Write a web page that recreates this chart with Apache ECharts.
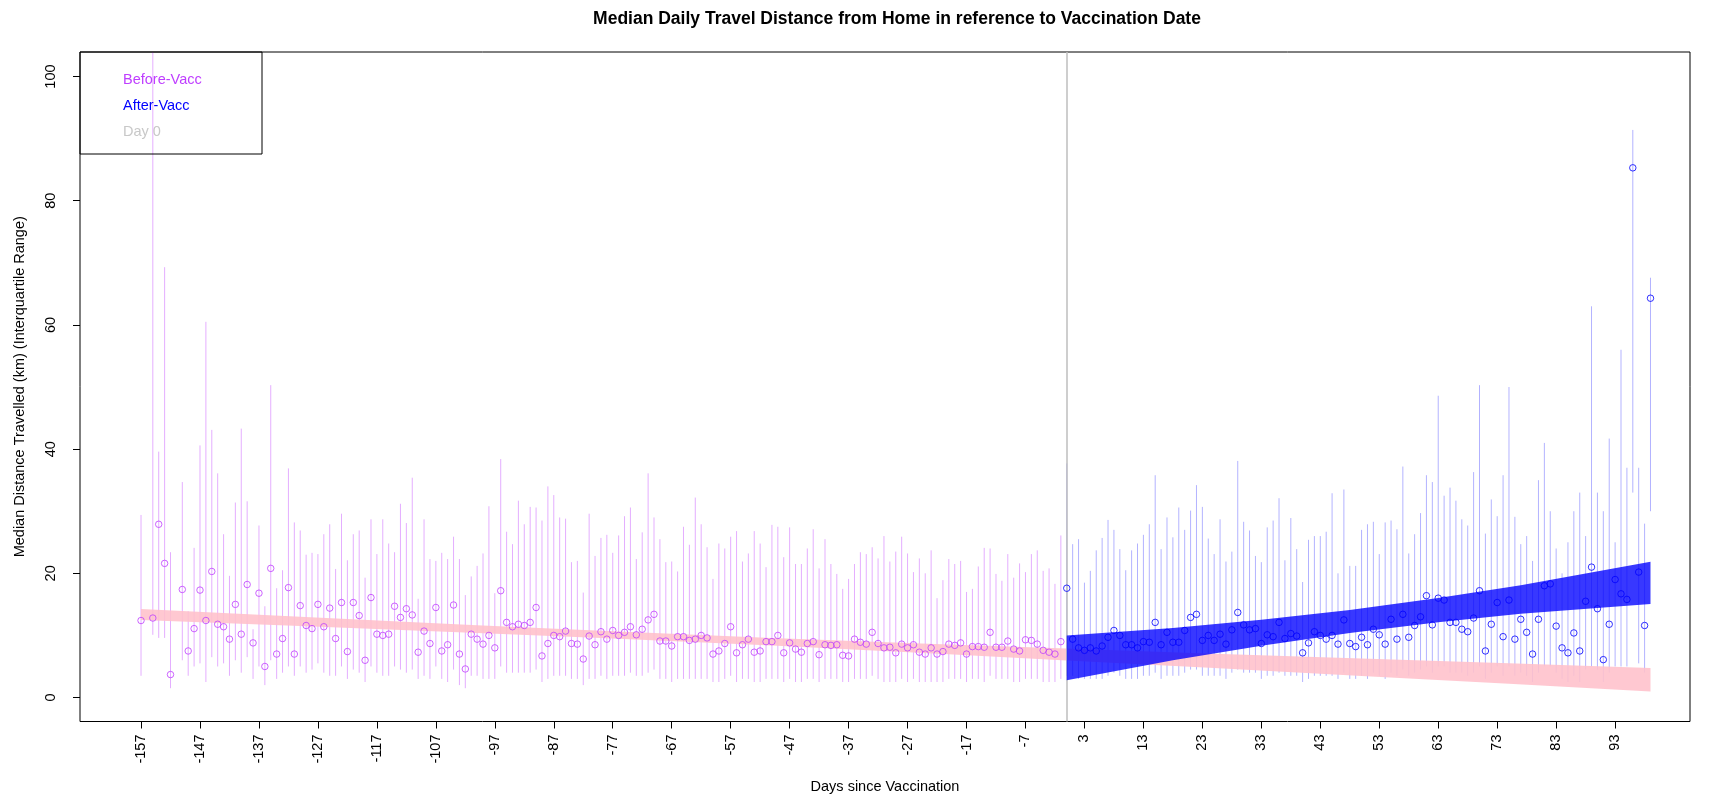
<!DOCTYPE html>
<html>
<head>
<meta charset="utf-8">
<script src="https://cdn.jsdelivr.net/npm/echarts@6/dist/echarts.min.js"></script>
<style>
html,body{margin:0;padding:0;background:#fff;}
#chart{width:1716px;height:801px;}
</style>
</head>
<body>
<div id="chart"></div>
<script>
// ---------------- DATA ----------------
const xTickLabels = [-157,-147,-137,-127,-117,-107,-97,-87,-77,-67,-57,-47,-37,-27,-17,-7,3,13,23,33,43,53,63,73,83,93];
const yTickLabels = [0,20,40,60,80,100];

const beforeDays = [-157,-155,-154,-153,-152,-150,-149,-148,-147,-146,-145,-144,-143,-142,-141,-140,-139,-138,-137,-136,-135,-134,-133,-132,-131,-130,-129,-128,-127,-126,-125,-124,-123,-122,-121,-120,-119,-118,-117,-116,-115,-114,-113,-112,-111,-110,-109,-108,-107,-106,-105,-104,-103,-102,-101,-100,-99,-98,-97,-96,-95,-94,-93,-92,-91,-90,-89,-88,-87,-86,-85,-84,-83,-82,-81,-80,-79,-78,-77,-76,-75,-74,-73,-72,-71,-70,-69,-68,-67,-66,-65,-64,-63,-62,-61,-60,-59,-58,-57,-56,-55,-54,-53,-52,-51,-50,-49,-48,-47,-46,-45,-44,-43,-42,-41,-40,-39,-38,-37,-36,-35,-34,-33,-32,-31,-30,-29,-28,-27,-26,-25,-24,-23,-22,-21,-20,-19,-18,-17,-16,-15,-14,-13,-12,-11,-10,-9,-8,-7,-6,-5,-4,-3,-2,-1];
const beforeMedian = [12.4,12.8,27.9,21.6,3.7,17.4,7.5,11.1,17.3,12.4,20.3,11.8,11.4,9.4,15.0,10.2,18.2,8.8,16.8,5.0,20.8,7.0,9.5,17.7,7.0,14.8,11.6,11.1,15.0,11.4,14.4,9.5,15.3,7.4,15.3,13.2,6.0,16.1,10.2,10.0,10.2,14.7,12.9,14.3,13.3,7.3,10.7,8.7,14.5,7.5,8.5,14.9,7.0,4.6,10.2,9.4,8.6,10.0,8.0,17.2,12.1,11.4,11.8,11.6,12.1,14.5,6.7,8.7,10.0,9.8,10.7,8.7,8.6,6.2,9.9,8.5,10.6,9.4,10.8,10.0,10.5,11.4,10.1,11.0,12.5,13.4,9.1,9.1,8.3,9.8,9.8,9.2,9.4,10.0,9.6,7.0,7.5,8.7,11.4,7.2,8.5,9.4,7.3,7.5,9.0,9.0,10.0,7.2,8.8,7.8,7.3,8.7,9.0,6.9,8.5,8.4,8.5,6.8,6.7,9.4,8.9,8.6,10.5,8.7,8.0,8.1,7.2,8.6,8.0,8.5,7.3,7.0,8.0,7.0,7.4,8.6,8.4,8.8,7.0,8.2,8.2,8.1,10.5,8.1,8.1,9.1,7.8,7.5,9.3,9.2,8.6,7.6,7.3,7.0,9.0];
const beforeQ1 = [3.5,10.1,9.6,9.6,1.5,6.0,3.5,5.0,5.5,2.5,6.5,5.0,5.5,3.5,6.0,4.0,6.5,3.0,5.0,2.0,6.0,3.0,4.0,5.0,3.5,5.0,4.0,4.5,5.5,4.0,3.5,3.5,5.0,3.0,4.5,4.0,2.5,5.0,4.0,3.5,3.5,5.0,4.5,4.0,4.5,3.0,3.5,3.0,5.0,3.0,2.5,4.5,2.0,1.5,3.5,3.5,3.0,3.0,3.0,5.0,4.0,4.0,4.0,4.0,4.0,4.5,2.5,3.0,3.5,3.5,3.5,3.0,3.0,2.0,3.0,3.0,3.5,3.0,3.5,3.5,3.5,4.0,3.5,3.5,4.0,4.5,3.0,3.0,2.5,3.0,3.0,3.0,3.0,3.0,3.0,2.5,2.5,3.0,3.5,2.5,3.0,3.0,2.5,2.5,3.0,3.0,3.0,2.5,3.0,2.5,2.5,3.0,3.0,2.5,3.0,3.0,3.0,2.5,2.5,3.0,3.0,3.0,3.5,3.0,2.5,2.5,2.5,3.0,2.5,3.0,2.5,2.5,2.5,2.5,2.5,3.0,3.0,3.0,2.5,3.0,3.0,2.5,3.5,3.0,3.0,3.0,2.5,2.5,3.0,3.0,3.0,2.5,2.5,2.5,3.0];
const beforeQ3 = [29.4,110,39.6,69.3,23.4,34.7,13.9,24.1,40.6,60.5,43.1,36.1,26.3,19.6,31.4,43.3,31.6,11.0,27.7,14.7,50.3,17.6,20.5,36.9,28.2,26.9,23.0,23.3,23.1,26.3,27.9,20.7,29.6,22.1,26.3,26.9,19.3,28.7,23.1,28.7,24.8,23.4,31.2,28.1,35.4,15.9,28.7,22.3,22.0,23.3,22.3,25.9,22.3,16.5,19.5,21.2,23.2,30.8,16.8,38.4,26.7,24.7,31.7,27.9,30.7,30.6,28.5,34.0,32.6,29.0,28.8,21.8,22.0,16.9,29.6,22.8,25.7,26.2,23.3,26.1,29.2,30.6,22.3,26.6,36.1,29.0,25.5,21.8,21.9,20.3,27.5,24.6,32.2,27.9,24.2,19.1,24.8,24.0,25.9,26.8,21.9,23.2,26.8,24.8,21.0,27.8,27.5,22.6,27.4,21.5,21.5,24.0,27.1,20.8,25.5,21.5,19.9,17.5,19.1,21.5,23.4,23.1,24.2,22.4,26.0,21.9,23.5,25.9,23.2,20.2,22.4,20.0,23.7,16.0,18.9,22.3,21.5,22.0,17.0,17.5,21.1,24.1,24.0,19.9,18.8,23.1,19.3,21.6,20.2,23.1,23.7,20.4,20.8,18.3,26.1];

const afterDays = [0,1,2,3,4,5,6,7,8,9,10,11,12,13,14,15,16,17,18,19,20,21,22,23,24,25,26,27,28,29,30,31,32,33,34,35,36,37,38,39,40,41,42,43,44,45,46,47,48,49,50,51,52,53,54,55,56,57,58,59,60,61,62,63,64,65,66,67,68,69,70,71,72,73,74,75,76,77,78,79,80,81,82,83,84,85,86,87,88,89,90,91,92,93,94,95,96,97,98,99];
const afterMedian = [17.6,9.4,8.0,7.6,8.0,7.5,8.3,9.7,10.8,10.0,8.5,8.5,8.0,9.0,8.9,12.1,8.5,10.5,8.9,8.9,10.8,12.9,13.4,9.2,10.0,9.2,10.2,8.6,10.9,13.7,11.7,10.9,11.1,8.7,10.1,9.8,12.1,9.5,10.3,9.9,7.2,8.8,10.6,10.0,9.4,10.0,8.6,12.5,8.7,8.2,9.7,8.5,11.0,10.1,8.6,12.6,9.4,13.4,9.7,11.6,13.0,16.4,11.7,16.0,15.7,12.1,12.1,11.0,10.6,12.8,17.2,7.5,11.8,15.3,9.8,15.7,9.4,12.6,10.5,7.0,12.6,18.0,18.3,11.5,8.0,7.2,10.4,7.5,15.5,21.0,14.3,6.1,11.8,19.0,16.7,15.8,85.3,20.2,11.6,64.3];
const afterQ1 = [3.5,3.5,3.0,3.0,3.0,3.0,3.0,3.5,4.0,3.5,3.0,3.0,3.0,3.5,3.5,4.0,3.0,3.5,3.5,3.5,4.0,4.5,4.5,3.5,3.5,3.5,3.5,3.0,4.0,4.5,4.0,4.0,4.0,3.0,3.5,3.5,4.0,3.5,3.5,3.5,2.5,3.0,3.5,3.5,3.5,3.5,3.0,4.0,3.0,3.0,3.5,3.0,4.0,3.5,3.0,4.0,3.5,4.5,3.5,4.0,4.5,5.0,4.0,5.0,5.0,4.0,4.0,4.0,3.5,4.0,5.0,3.0,4.0,5.0,3.5,5.0,3.5,4.0,3.5,2.5,4.0,5.0,5.0,4.0,3.0,2.5,3.5,2.5,4.5,5.0,4.5,2.5,4.0,5.0,5.0,5.0,33.0,5.5,4.0,30.0];
const afterQ3 = [37.7,24.7,25.5,18.5,20.4,23.7,25.7,28.6,27.0,23.9,20.5,23.7,24.8,26.2,27.9,35.8,23.9,29.0,25.8,30.6,27.0,30.1,34.2,30.7,25.6,23.1,28.7,21.9,23.5,38.1,28.3,26.9,22.8,21.8,27.4,28.5,32.1,22.1,28.9,23.9,18.6,25.4,26.0,26.0,26.7,32.9,20.0,33.5,21.2,21.2,27.0,27.9,28.3,23.1,28.2,28.5,27.1,37.2,23.2,26.3,29.7,35.8,34.7,48.6,32.5,33.8,31.7,28.7,27.7,36.3,50.3,26.4,31.9,29.2,35.8,50.0,29.1,24.7,26.0,22.0,35.0,41.0,30.0,24.0,20.0,25.0,30.0,33.0,26.0,63.0,33.0,30.0,41.7,25.0,56.0,37.0,91.4,37.0,28.0,67.6];

// regression confidence bands (day, lower, upper)
const beforeBandDays  = [-157,-130,-100,-78,-50,-20,0,25,50,75,99];
const beforeBandLower = [12.5,11.51,10.41,9.55,8.36,6.95,5.98,4.76,3.48,2.21,0.97];
const beforeBandUpper = [14.24,13.01,11.65,10.71,9.60,8.55,7.88,7.06,6.28,5.51,4.77];
const afterBandDays  = [0,18,33,48,63,77,99];
const afterBandLower = [2.8,6.0,8.33,10.41,12.14,13.49,15.08];
const afterBandUpper = [10.0,11.2,12.53,14.11,16.04,18.09,21.88];

// ---------------- CHART ----------------
const FONT = 'Liberation Sans, Arial, sans-serif';
const purple = '#bf3eff';
const blue = '#0000ff';

function zip3(d, a, b) { return d.map((v, i) => [v, a[i], b[i]]); }
function zip2(d, a) { return d.map((v, i) => [v, a[i]]); }

function segRender(color) {
  return function (params, api) {
    const x = api.value(0);
    const p1 = api.coord([x, api.value(1)]);
    const p2 = api.coord([x, api.value(2)]);
    return { type: 'line', shape: { x1: p1[0], y1: p1[1], x2: p2[0], y2: p2[1] },
             style: { stroke: color, lineWidth: 1 } };
  };
}
function bandRender(days, lo, hi, color) {
  return function (params, api) {
    const pts = [];
    for (let i = 0; i < days.length; i++) pts.push(api.coord([days[i], hi[i]]));
    for (let i = days.length - 1; i >= 0; i--) pts.push(api.coord([days[i], lo[i]]));
    return { type: 'polygon', shape: { points: pts }, style: { fill: color, stroke: null } };
  };
}

const chart = echarts.init(document.getElementById('chart'), null, { renderer: 'canvas' });
chart.setOption({
  animation: false,
  backgroundColor: '#ffffff',
  textStyle: { fontFamily: FONT },
  title: {
    text: 'Median Daily Travel Distance from Home in reference to Vaccination Date',
    left: 892, top: 5, textAlign: 'center',
    textStyle: { fontFamily: FONT, fontWeight: 'bold', fontSize: 17.5, color: '#000' }
  },
  grid: { left: 80, right: 26, top: 52, bottom: 79.5, show: true, borderColor: '#000', borderWidth: 1, outerBoundsMode: 'none' },
  xAxis: {
    type: 'value', min: -167.35, max: 105.7,
    name: 'Days since Vaccination', nameLocation: 'middle', nameGap: 58,
    nameTextStyle: { fontFamily: FONT, fontSize: 14.5, color: '#000' },
    axisLine: { show: false, onZero: false },
    splitLine: { show: false },
    axisTick: { show: true, length: 7, customValues: xTickLabels, lineStyle: { color: '#000' } },
    axisLabel: { customValues: xTickLabels, rotate: 90, margin: 13, fontSize: 14.5, color: '#000', fontFamily: FONT, hideOverlap: false }
  },
  yAxis: {
    type: 'value', min: -3.86, max: 103.95,
    name: 'Median Distance Travelled (km) (Interquartile Range)', nameLocation: 'middle', nameGap: 53, nameRotate: 90,
    nameTextStyle: { fontFamily: FONT, fontSize: 14.5, color: '#000' },
    axisLine: { show: false, onZero: false },
    splitLine: { show: false },
    axisTick: { show: true, length: 7, customValues: yTickLabels, lineStyle: { color: '#000' } },
    axisLabel: { customValues: yTickLabels, rotate: 90, margin: 22, fontSize: 14.5, color: '#000', fontFamily: FONT }
  },
  graphic: [
    { type: 'rect', shape: { x: 80, y: 52, width: 182, height: 102 }, style: { fill: null, stroke: '#000', lineWidth: 1 }, z: 100 },
    { type: 'text', x: 123, y: 80, style: { text: 'Before-Vacc', fill: purple, font: '14.5px ' + FONT, textVerticalAlign: 'middle' }, z: 100 },
    { type: 'text', x: 123, y: 106, style: { text: 'After-Vacc', fill: blue, font: '14.5px ' + FONT, textVerticalAlign: 'middle' }, z: 100 },
    { type: 'text', x: 123, y: 132, style: { text: 'Day 0', fill: '#c8c8c8', font: '14.5px ' + FONT, textVerticalAlign: 'middle' }, z: 100 }
  ],
  series: [
    {
      name: 'Before IQR', type: 'custom', clip: true, z: 2,
      data: zip3(beforeDays, beforeQ1, beforeQ3),
      renderItem: segRender('rgba(191,62,255,0.42)'),
      markLine: { silent: true, symbol: 'none', label: { show: false },
        lineStyle: { color: '#bebebe', width: 1.5, type: 'solid' }, data: [{ xAxis: 0 }] }
    },
    {
      name: 'After IQR', type: 'custom', clip: true, z: 3,
      data: zip3(afterDays, afterQ1, afterQ3),
      renderItem: segRender('rgba(0,0,255,0.3)')
    },
    {
      name: 'Before fit', type: 'custom', clip: true, z: 4,
      data: [[0, 0]],
      renderItem: bandRender(beforeBandDays, beforeBandLower, beforeBandUpper, 'rgba(255,192,203,0.88)')
    },
    {
      name: 'After fit', type: 'custom', clip: true, z: 5,
      data: [[0, 0]],
      renderItem: bandRender(afterBandDays, afterBandLower, afterBandUpper, 'rgba(0,0,255,0.78)')
    },
    {
      name: 'Before-Vacc', type: 'scatter', z: 6, symbol: 'circle', symbolSize: 6.5,
      data: zip2(beforeDays, beforeMedian),
      itemStyle: { color: 'rgba(0,0,0,0)', borderColor: purple, borderWidth: 1 }
    },
    {
      name: 'After-Vacc', type: 'scatter', z: 7, symbol: 'circle', symbolSize: 6.5,
      data: zip2(afterDays, afterMedian),
      itemStyle: { color: 'rgba(0,0,0,0)', borderColor: blue, borderWidth: 1 }
    }
  ]
});
</script>
</body>
</html>
